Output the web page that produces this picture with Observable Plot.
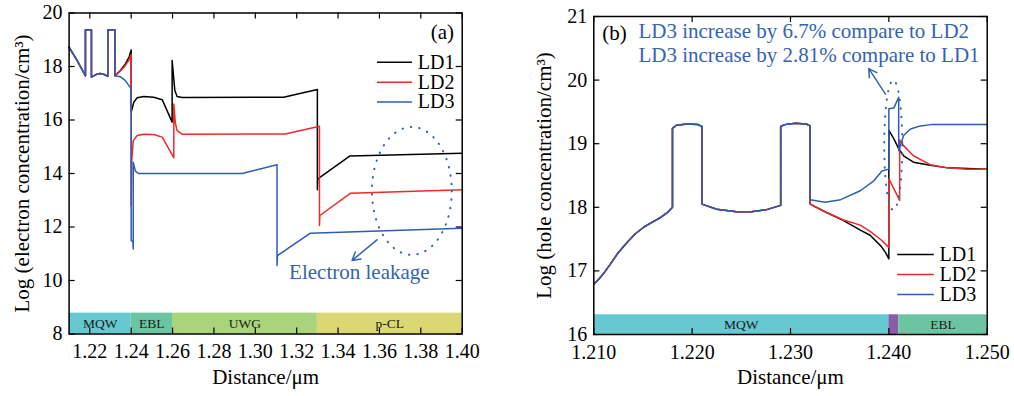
<!DOCTYPE html>
<html><head><meta charset="utf-8">
<script src="https://cdn.jsdelivr.net/npm/d3@7"></script>
<script src="https://cdn.jsdelivr.net/npm/@observablehq/plot@0.6"></script>
<style>
body{margin:0;background:#fff;}
#wrap{position:relative;width:1014px;height:396px;overflow:hidden;}
#a{position:absolute;left:0;top:0;}
#b{position:absolute;left:500px;top:0;}
</style></head><body><div id="wrap"><div id="a"></div><div id="b"></div></div>
<script>
// ---------- Panel (a): electron concentration ----------
const aLD1x = [1.2100,1.2139,1.2179,1.2179,1.2208,1.2208,1.2230,1.2250,1.2270,1.2287,1.2287,1.2321,1.2321,1.2348,1.2372,1.2390,1.2400,1.2400,1.2413,1.2429,1.2461,1.2509,1.2550,1.2598,1.2598,1.2611,1.2622,1.2646,1.3137,1.3300,1.3300,1.3302,1.3456,1.4000];
const aLD1y = [18.72,18.22,17.65,19.37,19.37,17.60,17.70,17.74,17.70,17.63,19.37,19.37,17.65,17.85,18.10,18.35,18.62,16.29,16.67,16.83,16.88,16.85,16.76,15.92,18.22,17.10,16.88,16.84,16.85,17.14,13.39,13.80,14.65,14.76];
const aLD2x = [1.2100,1.2139,1.2179,1.2179,1.2208,1.2208,1.2230,1.2250,1.2270,1.2287,1.2287,1.2321,1.2321,1.2348,1.2372,1.2390,1.2400,1.2400,1.2403,1.2410,1.2429,1.2461,1.2509,1.2550,1.2606,1.2606,1.2614,1.2622,1.2646,1.3145,1.3310,1.3310,1.3312,1.3459,1.4000];
const aLD2y = [18.72,18.22,17.65,19.37,19.37,17.60,17.70,17.74,17.70,17.63,19.37,19.37,17.65,17.83,18.04,18.25,18.45,12.80,14.50,15.23,15.42,15.47,15.46,15.36,14.59,16.60,15.86,15.60,15.47,15.48,15.77,12.06,12.43,13.26,13.39];
const aLD3x = [1.2100,1.2139,1.2179,1.2179,1.2208,1.2208,1.2230,1.2250,1.2270,1.2287,1.2287,1.2321,1.2321,1.2348,1.2372,1.2397,1.2400,1.2400,1.2408,1.2410,1.2410,1.2420,1.2435,1.2936,1.3105,1.3105,1.3107,1.3266,1.4000];
const aLD3y = [18.72,18.22,17.65,19.37,19.37,17.60,17.70,17.74,17.70,17.63,19.37,19.37,17.65,17.62,17.47,17.20,17.15,11.50,11.45,11.18,14.42,14.10,14.00,14.00,14.33,10.56,10.93,11.77,11.95];
const aRegions = ["MQW","EBL","UWG","p-CL"];
const aRegionX1 = [1.21,1.24,1.26,1.33];
const aRegionX2 = [1.24,1.26,1.33,1.40];
const aRegionColors = ["#66c8d1","#6cc5a2","#a9d47c","#dbd873"];
const aXTicks = [1.22,1.24,1.26,1.28,1.30,1.32,1.34,1.36,1.38,1.40];
const aYTicks = [8,10,12,14,16,18,20];

// ---------- Panel (b): hole concentration ----------
const bSharedX = [1.2100,1.2105,1.2111,1.2117,1.2125,1.2134,1.2142,1.2151,1.2160,1.2168,1.2175,1.2180,1.2180,1.2184,1.2195,1.2206,1.2210,1.2210,1.2225,1.2245,1.2260,1.2275,1.2290,1.2290,1.2294,1.2305,1.2316,1.2320];
const bSharedY = [16.79,16.87,16.98,17.11,17.29,17.45,17.58,17.69,17.77,17.84,17.92,18.00,19.24,19.29,19.31,19.30,19.27,18.05,17.97,17.93,17.93,17.96,18.03,19.27,19.30,19.32,19.31,19.28];
const bLD1x = [1.2320,1.2335,1.2354,1.2371,1.2381,1.2392,1.2397,1.2400,1.2400,1.2405,1.2410,1.2415,1.2425,1.2442,1.2460,1.2500];
const bLD1y = [18.05,17.93,17.79,17.64,17.56,17.39,17.28,17.19,19.21,19.08,18.92,18.81,18.71,18.66,18.62,18.60];
const bLD2x = [1.2320,1.2335,1.2354,1.2371,1.2381,1.2392,1.2400,1.2400,1.2411,1.2411,1.2415,1.2425,1.2442,1.2460,1.2480,1.2500];
const bLD2y = [18.05,17.93,17.80,17.72,17.62,17.49,17.37,18.45,18.11,19.06,18.97,18.81,18.67,18.62,18.60,18.60];
const bLD3x = [1.2320,1.2335,1.2351,1.2371,1.2385,1.2393,1.2400,1.2400,1.2405,1.24085,1.2410,1.2410,1.2415,1.2422,1.2432,1.2443,1.2500];
const bLD3y = [18.12,18.08,18.12,18.26,18.42,18.57,18.60,19.55,19.56,19.68,19.73,18.89,19.13,19.23,19.28,19.30,19.30];
const bRegions = ["MQW","","EBL"];
const bRegionX1 = [1.210,1.240,1.241];
const bRegionX2 = [1.240,1.241,1.250];
const bRegionColors = ["#66c8d1","#8d5aa8","#6cc5a2"];
const bXTicks = [1.210,1.220,1.230,1.240,1.250];
const bYTicks = [16,17,18,19,20,21];

const seriesNames = ["LD1","LD2","LD3"];
const seriesColors = ["#000000","#f02a2a","#2d5db3"];
const noteBlue = "#3563b0";
const FONT = "Liberation Serif, Times New Roman, serif";

const pts = (xs, ys) => xs.map((x, i) => [x, ys[i]]);

// annotation geometry (data coords)
const aEllipse = {cx: 1.3759, cy: 13.33, rx: 0.0193, ry: 2.39};
const aArrow = [{x1: 1.3588, y1: 11.52, x2: 1.3468, y2: 10.75}];
const aNote = [{x: 1.3503, y: 10.30, t: "Electron leakage"}];
const aLegendY = [18.16, 17.41, 16.67];
const aLegendX = [1.3588, 1.3757, 1.3785];
const bEllipse = {cx: 1.24050, cy: 18.97, rx: 0.00092, ry: 1.02};
const bArrow = [{x1: 1.23966, y1: 19.78, x2: 1.23796, y2: 20.18}];
const bNotes = [{x: 1.21454, y: 20.764, t: "LD3 increase by 6.7% compare to LD2"},
                {x: 1.21454, y: 20.387, t: "LD3 increase by 2.81% compare to LD1"}];
const bLegendY = [17.258, 16.943, 16.629];
const bLegendX = [1.24085, 1.24457, 1.24515];

function ellipseMark(e) {
  return (index, scales) => {
    const ns = "http://www.w3.org/2000/svg";
    const el = document.createElementNS(ns, "ellipse");
    const cx = scales.x(e.cx), cy = scales.y(e.cy);
    el.setAttribute("cx", cx);
    el.setAttribute("cy", cy);
    el.setAttribute("rx", Math.abs(scales.x(e.cx + e.rx) - cx));
    el.setAttribute("ry", Math.abs(scales.y(e.cy + e.ry) - cy));
    el.setAttribute("fill", "none");
    el.setAttribute("stroke", noteBlue);
    el.setAttribute("stroke-width", 2);
    el.setAttribute("stroke-linecap", "round");
    el.setAttribute("stroke-dasharray", "0.5 8");
    return el;
  };
}

function panel(cfg) {
  const innerH = cfg.height - cfg.mt - cfg.mb;
  const innerW = cfg.width - cfg.ml - cfg.mr;
  const bands = cfg.regions.map((r, i) => ({r, x1: cfg.rx1[i], x2: cfg.rx2[i], c: cfg.rcol[i]}));
  const legend = seriesNames.map((n, i) => ({n, c: seriesColors[i], y: cfg.legY[i]}));
  const marks = [
    Plot.rect(bands, {x1: "x1", x2: "x2", y1: cfg.yDomain[0], y2: cfg.bandTop, fill: "c"}),
    Plot.text(bands.filter(d => d.r), {x: d => (d.x1 + d.x2) / 2, y: (cfg.yDomain[0] + cfg.bandTop) / 2, text: "r", fontSize: 13.5, fill: "#1a1a1a"}),
    ...cfg.series.map((s, i) => Plot.line(s, {stroke: seriesColors[i], strokeWidth: 1.5})),
    ellipseMark(cfg.ellipse),
    Plot.arrow(cfg.arrow, {x1: "x1", y1: "y1", x2: "x2", y2: "y2", stroke: noteBlue, strokeWidth: 1.5, headLength: 9}),
    Plot.text(cfg.notes, {x: "x", y: "y", text: "t", fill: noteBlue, fontSize: 21, textAnchor: cfg.noteAnchor}),
    Plot.link(legend, {x1: cfg.legX[0], x2: cfg.legX[1], y1: "y", y2: "y", stroke: "c", strokeWidth: 1.5}),
    Plot.text(legend, {x: cfg.legX[2], y: "y", text: "n", textAnchor: "start", fontSize: 20, fill: "black"}),
    Plot.text([cfg.tag], {x: cfg.tagPos[0], y: cfg.tagPos[1], text: d => d, fontSize: 21, fill: "black"}),
    // inward ticks on all four sides
    Plot.tickX(cfg.xTicks, {x: d => d, insetTop: innerH - 6, stroke: "black", strokeWidth: 1.2}),
    Plot.tickX(cfg.xTicks, {x: d => d, insetBottom: innerH - 6, stroke: "black", strokeWidth: 1.2}),
    Plot.tickY(cfg.yTicks, {y: d => d, insetRight: innerW - 6, stroke: "black", strokeWidth: 1.2}),
    Plot.tickY(cfg.yTicks, {y: d => d, insetLeft: innerW - 6, stroke: "black", strokeWidth: 1.2}),
    Plot.axisX({ticks: cfg.xTicks, tickSize: 0, tickPadding: 10, tickFormat: d3.format(cfg.xFmt), label: null, fontSize: 20}),
    Plot.axisY({ticks: cfg.yTicks, tickSize: 0, tickPadding: 6.5, tickFormat: d3.format("d"), label: null, fontSize: 20}),
    Plot.frame({stroke: "black", strokeWidth: 1.5}),
    Plot.text([cfg.xLabel], {frameAnchor: "bottom", dy: 43, text: d => d, textAnchor: "middle", lineAnchor: "middle", fontSize: 21, fill: "black"}),
    Plot.text([cfg.yLabel], {frameAnchor: "left", dx: cfg.yLabelDx, rotate: -90, text: d => d, textAnchor: "middle", lineAnchor: "middle", fontSize: 21, fill: "black"})
  ];
  return Plot.plot({
    width: cfg.width, height: cfg.height,
    marginLeft: cfg.ml, marginRight: cfg.mr, marginTop: cfg.mt, marginBottom: cfg.mb,
    x: {domain: cfg.xDomain},
    y: {domain: cfg.yDomain},
    style: {fontFamily: FONT, fontSize: "20px", color: "black", background: "white", overflow: "visible"},
    marks
  });
}

const plotA = panel({
  width: 500, height: 396, ml: 68.6, mr: 38.3, mt: 12.5, mb: 62.5,
  xDomain: [1.21, 1.40], yDomain: [8, 20], bandTop: 8.78,
  regions: aRegions, rx1: aRegionX1, rx2: aRegionX2, rcol: aRegionColors,
  series: [pts(aLD1x, aLD1y), pts(aLD2x, aLD2y), pts(aLD3x, aLD3y)],
  ellipse: aEllipse, arrow: aArrow, notes: aNote, noteAnchor: "middle",
  legY: aLegendY, legX: aLegendX, tag: "(a)", tagPos: [1.3904, 19.27],
  xTicks: aXTicks, yTicks: aYTicks, xFmt: ".2f",
  xLabel: "Distance/μm", yLabel: "Log (electron concentration/cm³)", yLabelDx: -46.6
});
const plotB = panel({
  width: 514, height: 396, ml: 93.3, mr: 27.3, mt: 16, mb: 62,
  xDomain: [1.21, 1.25], yDomain: [16, 21], bandTop: 16.31,
  regions: bRegions, rx1: bRegionX1, rx2: bRegionX2, rcol: bRegionColors,
  series: [pts(bSharedX, bSharedY).concat(pts(bLD1x, bLD1y)), pts(bSharedX, bSharedY).concat(pts(bLD2x, bLD2y)), pts(bSharedX, bSharedY).concat(pts(bLD3x, bLD3y))],
  ellipse: bEllipse, arrow: bArrow, notes: bNotes, noteAnchor: "start",
  legY: bLegendY, legX: bLegendX, tag: "(b)", tagPos: [1.2121, 20.73],
  xTicks: bXTicks, yTicks: bYTicks, xFmt: ".3f",
  xLabel: "Distance/μm", yLabel: "Log (hole concentration/cm³)", yLabelDx: -49.3
});
document.getElementById("a").appendChild(plotA);
document.getElementById("b").appendChild(plotB);
</script></body></html>
